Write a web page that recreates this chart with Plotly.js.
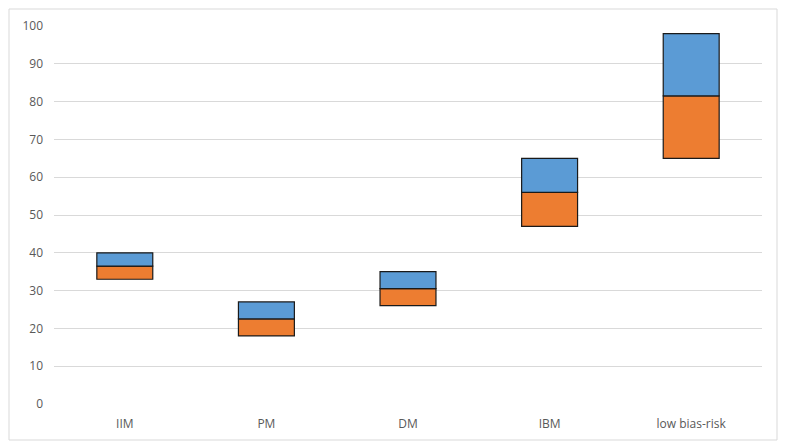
<!DOCTYPE html>
<html><head><meta charset="utf-8">
<script src="https://cdn.plot.ly/plotly-3.0.1.min.js"></script>
<style>html,body{margin:0;padding:0;background:#fff}#chart{width:785px;height:446px}</style>
</head><body><div id="chart"></div>
<script>
const categories = ["IIM", "PM", "DM", "IBM", "low bias-risk"];
const lowValues = [33, 18, 26, 47, 65];
const midValues = [36.5, 22.5, 30.5, 56, 81.5];
const highValues = [40, 27, 35, 65, 98];
const yTicks = [0, 10, 20, 30, 40, 50, 60, 70, 80, 90, 100];

const orangeLen = midValues.map((m, i) => m - lowValues[i]);
const blueLen = highValues.map((h, i) => h - midValues[i]);

const traces = [
  {type: 'bar', x: categories, y: orangeLen, base: lowValues, width: 0.395,
   marker: {color: '#ED7D31', line: {color: '#1a1a1a', width: 1.2}}, hoverinfo: 'skip'},
  {type: 'bar', x: categories, y: blueLen, base: midValues, width: 0.395,
   marker: {color: '#5B9BD5', line: {color: '#1a1a1a', width: 1.2}}, hoverinfo: 'skip'}
];

const L = 54, R = 23, T = 26, B = 42, W = 785, H = 446;
const pw = W - L - R, ph = H - T - B;
const layout = {
  width: W, height: H,
  margin: {l: L, r: R, t: T, b: B, pad: 0},
  paper_bgcolor: '#fff', plot_bgcolor: '#fff',
  showlegend: false, barmode: 'overlay',
  font: {family: 'Open Sans, Liberation Sans, sans-serif', color: '#595959', size: 12},
  xaxis: {showgrid: false, zeroline: false, showline: false, ticks: '', ticklabelstandoff: 11,
          tickfont: {size: 12, color: '#595959'}, fixedrange: true},
  yaxis: {range: [0, 100], tickvals: yTicks, ticktext: yTicks.map(String), showgrid: true,
          gridcolor: '#d9d9d9', gridwidth: 1, zeroline: false, showline: false, ticks: '',
          ticklabelstandoff: 10, tickfont: {size: 12, color: '#595959'}, fixedrange: true},
  shapes: [{type: 'rect', xref: 'paper', yref: 'paper', layer: 'below',
    x0: (9 - L) / pw, x1: (777 - L) / pw, y0: (H - B - 440) / ph, y1: (H - B - 9) / ph,
    line: {color: '#d9d9d9', width: 1}, fillcolor: 'rgba(0,0,0,0)'}]
};
Plotly.newPlot('chart', traces, layout, {displayModeBar: false, staticPlot: true});
</script></body></html>
